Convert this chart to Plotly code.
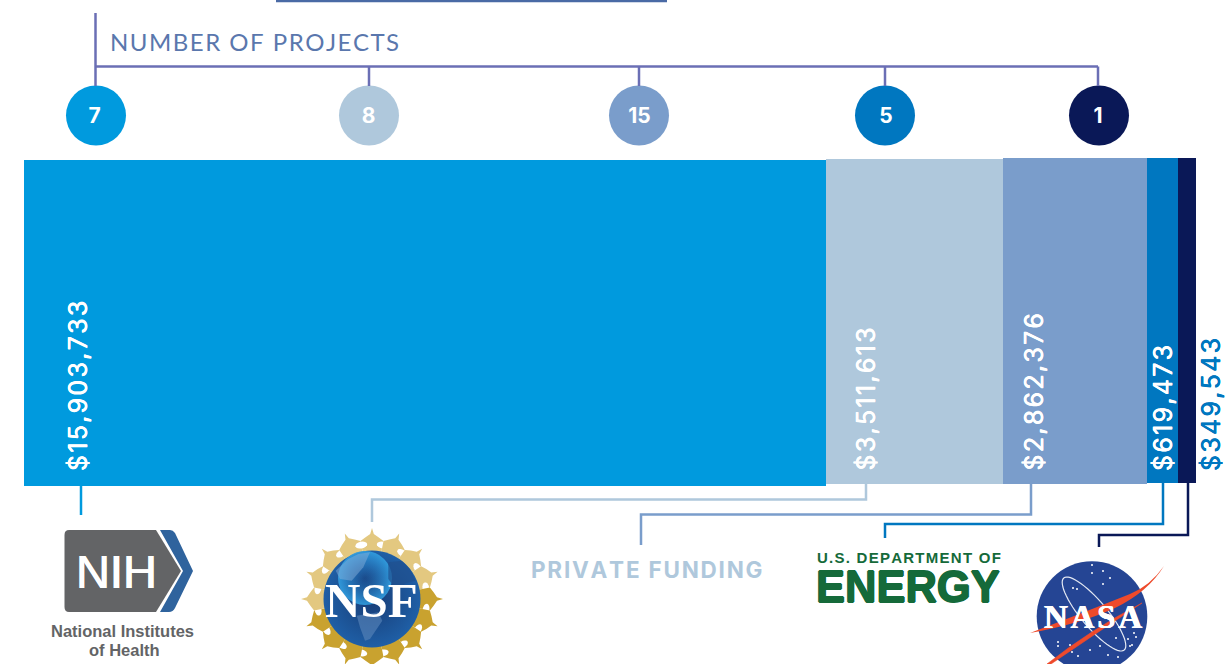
import math
import plotly.graph_objects as go

# ---------- data ----------
agencies = ["National Institutes of Health", "National Science Foundation", "Private Funding",
            "U.S. Department of Energy", "NASA"]
funding = [15903733, 3511613, 2862376, 619473, 349543]
projects = [7, 8, 15, 5, 1]
colors = ["#009ADE", "#AFC8DC", "#7A9DCB", "#0077C0", "#0A1857"]

W, H = 1226, 664
total = sum(funding)
scale = total / 1172.0      # dollars per pixel
BAR_LEFT = 24
HAIR = "\u200a"


def spaced(s):
    return HAIR.join(s)


fig = go.Figure()

# stacked funding bar (tilted very slightly in the source)
tops = [160, 158.5, 158, 157.5, 157.5]
bots = [486, 484, 483.5, 483, 483]
base = 0
for a, v, c, t, b in zip(agencies, funding, colors, tops, bots):
    fig.add_trace(go.Bar(x=[v], y=[(t + b) / 2], base=[base], width=[b - t], orientation="h",
                         marker=dict(color=c, line=dict(width=0)), name=a, showlegend=False,
                         hoverinfo="skip", xaxis="x", yaxis="y"))
    base += v

shapes = []
annots = []


def line(pts, color, width=2.5):
    d = "M" + " L".join(f"{x},{y}" for x, y in pts)
    shapes.append(dict(type="path", path=d, xref="x2", yref="y", line=dict(color=color, width=width),
                       layer="above"))


def path(d, fill, layer="above", lc=None, lw=0, opacity=1):
    shapes.append(dict(type="path", path=d, xref="x2", yref="y", fillcolor=fill, opacity=opacity,
                       line=dict(color=lc or fill, width=lw), layer=layer))


def poly(pts):
    return "M" + " L".join(f"{x:.1f},{y:.1f}" for x, y in pts) + " Z"


def text(x, y, s, size, color, family="Inter", xanchor="center", yanchor="middle", angle=0, bold=False, shadow=None):
    if bold:
        s = f"<b>{s}</b>"
    f = dict(size=size, color=color, family=family)
    if shadow:
        f["shadow"] = shadow
    annots.append(dict(x=x, y=y, xref="x2", yref="y", text=s, showarrow=False, font=f, xanchor=xanchor,
                       yanchor=yanchor, textangle=angle, borderpad=0, borderwidth=0))


# ---------- header ----------
AXC = "#6B6FB5"
line([(276, 1), (667, 1)], "#4A6AA5", 2.5)
line([(95.5, 13), (95.5, 86)], AXC, 2.5)
line([(95.5, 66.5), (1098, 66.5)], AXC, 2.5)
circle_x = [96, 369, 639, 885, 1099]
number_x = [94.5, 368.5, 639.5, 886, 1098]
for cx in circle_x[1:-1]:
    line([(cx, 66.5), (cx, 86)], AXC, 2.5)
line([(1098, 66.5), (1098, 86)], AXC, 2.5)
text(110, 41.5, spaced("NUMBER OF PROJECTS"), 24, "#5A77AD", family="Lato", xanchor="left")

fig.add_trace(go.Scatter(x=circle_x, y=[115.5] * 5, mode="markers",
                         marker=dict(size=60, color=colors, line=dict(width=0)),
                         showlegend=False, hoverinfo="skip", xaxis="x2", yaxis="y"))
fig.add_trace(go.Scatter(x=number_x, y=[118] * 5, mode="text",
                         text=[f"<b>{p}</b>" for p in projects], textposition="middle center",
                         textfont=dict(size=21, color="white", family="Inter"),
                         showlegend=False, hoverinfo="skip", xaxis="x2", yaxis="y"))

# ---------- value labels ----------
label_x = [78, 865, 1033, 1163, 1210.5]
label_c = ["white", "white", "white", "white", "#0077C0"]
for lx, v, c in zip(label_x, funding, label_c):
    text(lx, 471, spaced(f"${v:,}"), 25, c, xanchor="center", yanchor="bottom", angle=-90,
         shadow=f"0.35px 0 0 {c}, -0.35px 0 0 {c}")

# ---------- connectors ----------
line([(81, 486), (81, 515)], colors[0])
line([(866, 484), (866, 499.5), (372, 499.5), (372, 522)], colors[1])
line([(1031, 483), (1031, 514.5), (641, 514.5), (641, 545)], colors[2])
line([(1163, 483), (1163, 524), (885, 524), (885, 538)], colors[3])
line([(1188, 483), (1188, 535), (1099, 535), (1099, 547)], colors[4])

# ---------- NIH logo ----------
GR = "#636466"
path("M69,530 L156,530 L181,571 L156,612 L69,612 Q64.5,612 64.5,607 L64.5,535 Q64.5,530 69,530 Z", GR)
path("M160,530 L170,530 Q173,530 175,533 L193,571 L175,608 Q173,612 169,612 L160,612 L183,571 Z", "#2F639D")
text(116, 571, "NIH", 47, "white", family="Liberation Sans", shadow="0.6px 0 0 white, -0.6px 0 0 white")
text(122, 631, "National Institutes", 16.5, GR, family="Liberation Sans", bold=True)
text(124, 650, "of Health", 16.5, GR, family="Liberation Sans", bold=True)

# ---------- NSF logo ----------
NX, NY = 372, 599
n = 16
step = 2 * math.pi / n
for k in range(n):
    a = 2 * math.pi * k / n - math.pi / 2
    rs = [(40, -0.5), (59, -0.5), (62, -0.28), (65, -0.07), (71, 0), (65, 0.07), (62, 0.28), (59, 0.5), (40, 0.5)]
    pts = [(NX + r * math.cos(a + f * step), NY + r * math.sin(a + f * step)) for r, f in rs]
    col = "#C9A22F" if math.sin(a) + 0.35 * math.cos(a) > 0.05 else "#E3C880"
    path(poly(pts), col, layer="below")
    m = a + step / 2
    hole = []
    for i in range(16):
        t = 2 * math.pi * i / 16
        u, v = 3.4 * math.cos(t), 6 * math.sin(t)
        hole.append((NX + 55 * math.cos(m) + u * math.cos(m) - v * math.sin(m),
                     NY + 55 * math.sin(m) + u * math.sin(m) + v * math.cos(m)))
    path(poly(hole), "white", layer="below")

fig.add_trace(go.Scatter(x=[NX], y=[NY], mode="markers",
                         marker=dict(size=97, color="#1F5FA6",
                                     gradient=dict(type="radial", color="#173C76"), line=dict(width=0)),
                         showlegend=False, hoverinfo="skip", xaxis="x2", yaxis="y"))
fig.add_trace(go.Scatter(x=[365], y=[578], mode="markers",
                         marker=dict(size=54, color="rgba(50,160,225,0.9)",
                                     gradient=dict(type="radial", color="rgba(40,130,205,0)"), line=dict(width=0)),
                         showlegend=False, hoverinfo="skip", xaxis="x2", yaxis="y"))


def nsfz(pts):
    return poly([(295 + x / 3, 524 + y / 3) for x, y in pts])


path(nsfz([(190, 90), (225, 85), (205, 130), (170, 170), (135, 165), (122, 140), (160, 105)]), "#8FB3DC", opacity=0.45)
path(nsfz([(280, 115), (320, 110), (345, 135), (362, 170), (330, 178), (310, 205), (280, 165)]), "#20508F", opacity=0.7)
path(nsfz([(185, 275), (250, 265), (262, 290), (225, 345), (210, 350), (195, 310)]), "#5B87BB", opacity=0.6)
text(NX - 0.5, NY + 1, "NSF", 49, "white", family="Liberation Serif", bold=True)

# ---------- private funding ----------
text(646, 569, spaced("PRIVATE FUNDING"), 22.5, "#AFC8DC", family="Inter", bold=True)

# ---------- DOE logo ----------
GN = "#156A3A"
text(909, 557.5, spaced("U.S. DEPARTMENT OF"), 15, GN, family="Liberation Sans", bold=True)
text(908, 587, "ENERGY", 43.5, GN, family="Liberation Sans", bold=True,
     shadow="0.8px 0 0 #156A3A, -0.8px 0 0 #156A3A, 0 0.8px 0 #156A3A, 0 -0.8px 0 #156A3A")

# ---------- NASA logo ----------
AX, AY = 1092, 616.5
R = 55.3
fig.add_trace(go.Scatter(x=[AX], y=[AY], mode="markers",
                         marker=dict(size=2 * R, color="#254594", line=dict(width=0)),
                         showlegend=False, hoverinfo="skip", xaxis="x2", yaxis="y"))
stars = [(1092, 565), (1103, 571), (1092, 573), (1110, 578), (1073, 588), (1077, 589), (1103, 584),
         (1116, 638), (1134, 633), (1136, 637), (1128, 639), (1132, 645), (1058, 642), (1058, 646), (1070, 645),
         (1072, 652), (1078, 656), (1090, 650), (1108, 655), (1118, 657), (1130, 646), (1100, 646)]
fig.add_trace(go.Scatter(x=[s[0] for s in stars], y=[s[1] for s in stars], mode="markers",
                         marker=dict(size=2, color="white", line=dict(width=0)),
                         showlegend=False, hoverinfo="skip", xaxis="x2", yaxis="y"))
ell = []
for i in range(61):
    t = 2 * math.pi * i / 60
    u, v = 47 * math.cos(t), 13 * math.sin(t)
    c, s = math.cos(math.radians(50)), math.sin(math.radians(50))
    ell.append((1094 + u * c - v * s, 614 + u * s + v * c))
line([(round(x, 1), round(y, 1)) for x, y in ell], "#E3E8F3", 1.2)
path("M1164,566 Q1150,586 1130,594 Q1085,612 1030,633 Q1080,624 1115,608 Q1148,592 1164,566 Z", "#EE4A2B")
path("M1142,603 Q1090,630 1047,664 L1051,664 Q1095,634 1142,603 Z", "#EE4A2B", lc="#EE4A2B", lw=0.6)
text(1093, 616.5, spaced("NASA"), 33, "white", family="Liberation Serif", bold=True,
     shadow="0.4px 0 0 white, -0.4px 0 0 white")

fig.update_layout(
    width=W, height=H, autosize=False, margin=dict(l=0, r=0, t=0, b=0, pad=0),
    paper_bgcolor="white", plot_bgcolor="white", barmode="overlay", bargap=0,
    showlegend=False, shapes=shapes, annotations=annots,
    xaxis=dict(domain=[0, 1], range=[-BAR_LEFT * scale, (W - BAR_LEFT) * scale], visible=False, fixedrange=True),
    xaxis2=dict(range=[0, W], overlaying="x", visible=False, fixedrange=True, anchor="y"),
    yaxis=dict(domain=[0, 1], range=[H, 0], visible=False, fixedrange=True),
)
fig.write_html("out.html", config=dict(displayModeBar=False),
               post_script="document.body.style.margin='0';")
